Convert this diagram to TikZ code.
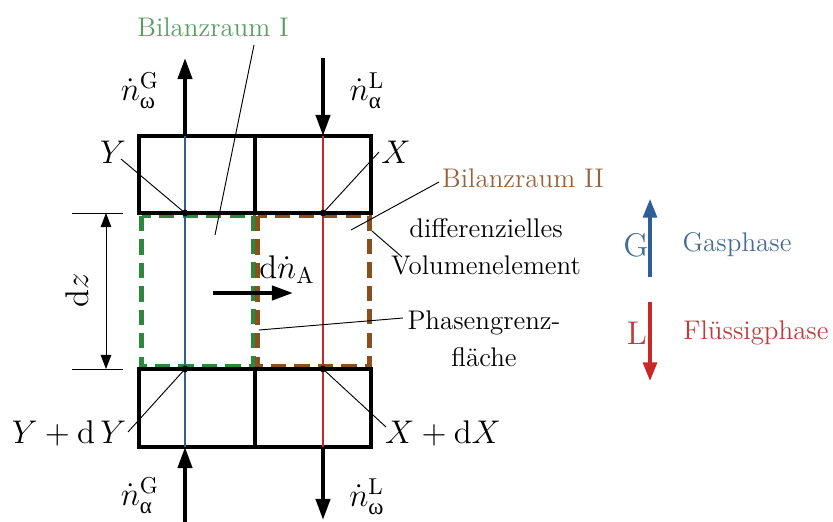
\RequirePackage{fix-cm}
\documentclass[tikz,border=0pt]{standalone}
\usepackage{amsmath}
\usepackage{fontspec}
\newfontfamily\grfont{Liberation Serif}
\usetikzlibrary{arrows.meta}

\definecolor{gruen}{RGB}{45,135,60}
\definecolor{gruentext}{RGB}{85,160,95}
\definecolor{braun}{RGB}{135,80,30}
\definecolor{brauntext}{RGB}{150,100,60}
\definecolor{blau}{RGB}{45,95,150}
\definecolor{blautext}{RGB}{70,110,150}
\definecolor{rot}{RGB}{200,40,40}
\definecolor{rottext}{RGB}{190,60,60}

\newcommand{\ndot}[2]{$\dot{n}^{\mathrm{#1}}_{\text{\grfont #2}}$}

\begin{document}
\begin{tikzpicture}[x=0.015cm, y=-0.015cm,
		txt/.style={font=\fontsize{11.5}{15.8}\selectfont, inner sep=0pt},
		sym/.style={font=\fontsize{14}{16}\selectfont, inner sep=0pt},
		wand/.style={line width=1.3pt},
		strom/.style={line width=1.7pt, -{Triangle[length=9pt, width=6pt]}},
		zeiger/.style={line width=0.4pt},
		grenze/.style={line width=1.9pt, dash pattern=on 6.5pt off 3.5pt}]
	\useasboundingbox (0,0) rectangle (833,522);

	\node[shape=coordinate] (yo) at (185,213) {};
	\node[shape=coordinate] (xo) at (323,213) {};
	\node[shape=coordinate] (yu) at (185,369) {};
	\node[shape=coordinate] (xu) at (323,369) {};
	\node[shape=coordinate] (gkopf) at (185,136) {};
	\node[shape=coordinate] (lkopf) at (323,136) {};
	\node[shape=coordinate] (gfuss) at (185,447) {};
	\node[shape=coordinate] (lfuss) at (323,447) {};
	\node[shape=coordinate] (gaus) at (185,58) {};
	\node[shape=coordinate] (lein) at (323,58) {};
	\node[shape=coordinate] (gein) at (185,522) {};
	\node[shape=coordinate] (laus) at (323,520) {};

	\draw[grenze, gruen] (141.5,216) rectangle (253.5,366.5);
	\draw[grenze, braun] (257.5,216) rectangle (369.5,366.5);

	\draw[wand] (139,213) -- (139,136) -- (371,136) -- (371,213) -- cycle;
	\draw[wand] (255,136) -- (255,213);
	\draw[wand] (139,369) rectangle (371,447);
	\draw[wand] (255,369) -- (255,447);

	\draw[blau, line width=0.9pt] (gkopf) -- (gfuss);
	\draw[rot, line width=0.9pt] (lkopf) -- (lfuss);
	\filldraw (yo) circle (1.2pt);
	\filldraw (xo) circle (1.2pt);
	\filldraw (yu) circle (1.2pt);
	\filldraw (xu) circle (1.2pt);

	\draw[strom] (gkopf) -- (gaus);
	\draw[strom] (lein) -- (lkopf);
	\draw[strom] (gein) -- (gfuss);
	\draw[strom] (lfuss) -- (laus);

	\node[sym] (nGo) at (140,91) {\ndot{G}{ω}};
	\node[sym] (nLa) at (367,91) {\ndot{L}{α}};
	\node[sym] (nGa) at (140,496) {\ndot{G}{α}};
	\node[sym] (nLo) at (367,497) {\ndot{L}{ω}};

	\node[shape=coordinate] (dzo) at (106,213) {};
	\node[shape=coordinate] (dzu) at (106,369) {};
	\draw[zeiger] (72,213) -- (123,213);
	\draw[zeiger] (72,369) -- (123,369);
	\draw[zeiger, {Triangle[length=6pt, width=4.5pt]}-{Triangle[length=6pt, width=4.5pt]}] (dzo) -- (dzu);
	\node[sym, rotate=90] (dz) at (77,290) {$\mathrm{d}z$};

	\node[shape=coordinate] (nAa) at (213,293) {};
	\node[shape=coordinate] (nAb) at (293,293) {};
	\draw[strom] (nAa) -- (nAb);
	\node[sym] (dnA) at (287,270) {$\mathrm{d}\dot{n}_{\mathrm{A}}$};

	\node[txt, gruentext] (bilI) at (213,27) {Bilanzraum I};
	\node[shape=coordinate] (bilIa) at (254,45) {};
	\node[shape=coordinate] (bilIb) at (215,235) {};
	\draw[zeiger] (bilIa) -- (bilIb);

	\node[txt, brauntext] (bilII) at (523,178) {Bilanzraum II};
	\node[shape=coordinate] (bilIIa) at (439,182) {};
	\node[shape=coordinate] (bilIIb) at (351,230) {};
	\draw[zeiger] (bilIIa) -- (bilIIb);

	\node[txt, align=center] (dvol) at (486,247) {differenzielles\\Volumenelement};
	\node[shape=coordinate] (dvola) at (402,257) {};
	\node[shape=coordinate] (dvolb) at (372,231) {};
	\draw[zeiger] (dvola) -- (dvolb);

	\node[txt, align=center] (phase) at (484,339) {Phasengrenz-\\fläche};
	\node[shape=coordinate] (phasea) at (403,318) {};
	\node[shape=coordinate] (phaseb) at (259,330) {};
	\draw[zeiger] (phasea) -- (phaseb);

	\node[sym] (labY) at (113,152) {$Y$};
	\node[shape=coordinate] (labYa) at (121,159) {};
	\draw[zeiger] (labYa) -- (yo);
	\node[sym] (labX) at (396,152) {$X$};
	\node[shape=coordinate] (labXa) at (379,152) {};
	\draw[zeiger] (labXa) -- (xo);
	\node[sym] (labYdY) at (69,433) {$Y+\mathrm{d}\,Y$};
	\node[shape=coordinate] (labYdYa) at (128,432) {};
	\draw[zeiger] (labYdYa) -- (yu);
	\node[sym] (labXdX) at (443,433) {$X+\mathrm{d}X$};
	\node[shape=coordinate] (labXdXa) at (386,427) {};
	\draw[zeiger] (labXdXa) -- (xu);

	\node[shape=coordinate] (gleg) at (650,277) {};
	\node[shape=coordinate] (glegb) at (650,199) {};
	\node[shape=coordinate] (lleg) at (650,302) {};
	\node[shape=coordinate] (llegb) at (650,381) {};
	\draw[blau, line width=1.3pt, -{Triangle[length=8pt, width=6pt]}] (gleg) -- (glegb);
	\draw[rot, line width=1.3pt, -{Triangle[length=8pt, width=6pt]}] (lleg) -- (llegb);
	\node[sym, blautext] (G) at (636,245) {$\mathrm{G}$};
	\node[txt, blautext] (gas) at (737,245) {Gasphase};
	\node[sym, rottext] (L) at (637,333) {$\mathrm{L}$};
	\node[txt, rottext] (fl) at (756,333) {Flüssigphase};
\end{tikzpicture}
\end{document}
